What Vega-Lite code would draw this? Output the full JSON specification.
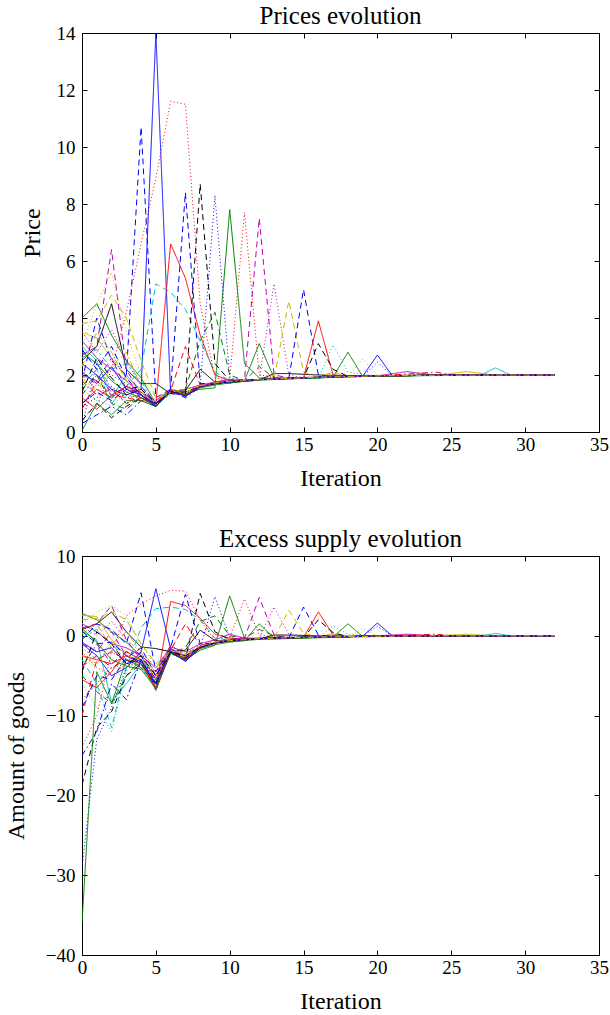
{
"$schema":"https://vega.github.io/schema/vega-lite/v6.json",
"padding":{"left":3,"top":3,"right":0,"bottom":0},
"spacing":35,
"config":{
 "font":"Liberation Serif",
 "view":{"stroke":"black","strokeWidth":1},
 "axis":{"labelFont":"Liberation Serif","labelFontSize":19,"titleFont":"Liberation Serif","titleFontSize":24,"titleFontWeight":"normal","labelColor":"black","titleColor":"black","domainColor":"black","tickColor":"black","tickSize":-5,"grid":false,"labelFlush":false,"labelOverlap":false,"labelPadding":12,"titlePadding":6},
 "axisX":{"labelPadding":8,"titlePadding":12},
 "title":{"font":"Liberation Serif","fontSize":25,"fontWeight":"normal","color":"black","anchor":"middle","frame":"group","offset":-5}
},
"data":{"values":[
{"s":1,"x":0,"p":2.4,"e":-1},{"s":1,"x":1,"p":2.0,"e":-2.5},{"s":1,"x":2,"p":1.5,"e":-5},{"s":1,"x":3,"p":1.3,"e":-4},{"s":1,"x":4,"p":1.5,"e":-2},{"s":1,"x":5,"p":14,"e":5.9},{"s":1,"x":6,"p":1.35,"e":-1.6},{"s":1,"x":7,"p":1.3,"e":-3},{"s":1,"x":8,"p":1.62,"e":-1.3},{"s":1,"x":9,"p":1.72,"e":-0.9},{"s":1,"x":10,"p":1.78,"e":-0.6},{"s":1,"x":11,"p":1.8,"e":-0.5},{"s":1,"x":12,"p":1.84,"e":-0.35},{"s":1,"x":14,"p":1.88,"e":-0.25},{"s":1,"x":16,"p":1.92,"e":-0.15},{"s":1,"x":18,"p":1.95,"e":-0.1},{"s":1,"x":20,"p":1.97,"e":-0.05},{"s":1,"x":24,"p":1.99,"e":0},{"s":1,"x":28,"p":2,"e":0},{"s":1,"x":32,"p":2,"e":0},
{"s":2,"x":0,"p":4.0,"e":2.8},{"s":2,"x":1,"p":4.5,"e":2.0},{"s":2,"x":2,"p":3.4,"e":0.5},{"s":2,"x":3,"p":2.5,"e":-0.8},{"s":2,"x":4,"p":1.9,"e":-2.5},{"s":2,"x":5,"p":1.0,"e":-5.5},{"s":2,"x":6,"p":1.45,"e":-2},{"s":2,"x":7,"p":1.35,"e":-3},{"s":2,"x":8,"p":1.5,"e":-1.8},{"s":2,"x":9,"p":1.55,"e":-1.2},{"s":2,"x":10,"p":7.8,"e":5.0},{"s":2,"x":11,"p":2.4,"e":-0.3},{"s":2,"x":12,"p":1.9,"e":-0.4},{"s":2,"x":14,"p":1.88,"e":-0.3},{"s":2,"x":16,"p":1.9,"e":-0.2},{"s":2,"x":18,"p":1.94,"e":-0.1},{"s":2,"x":20,"p":1.96,"e":-0.05},{"s":2,"x":24,"p":1.99,"e":0},{"s":2,"x":28,"p":2,"e":0},{"s":2,"x":32,"p":2,"e":0},
{"s":3,"x":0,"p":1.0,"e":-2.5},{"s":3,"x":1,"p":1.5,"e":-3},{"s":3,"x":2,"p":1.2,"e":-3.5},{"s":3,"x":3,"p":1.6,"e":-2.5},{"s":3,"x":4,"p":1.4,"e":-3.5},{"s":3,"x":5,"p":1.0,"e":-6.5},{"s":3,"x":6,"p":6.6,"e":4.3},{"s":3,"x":7,"p":5.4,"e":3.8},{"s":3,"x":8,"p":3.4,"e":2.2},{"s":3,"x":9,"p":2.0,"e":0.2},{"s":3,"x":10,"p":1.8,"e":-0.3},{"s":3,"x":11,"p":1.8,"e":-0.4},{"s":3,"x":12,"p":1.84,"e":-0.3},{"s":3,"x":14,"p":1.88,"e":-0.25},{"s":3,"x":16,"p":1.92,"e":-0.15},{"s":3,"x":18,"p":1.95,"e":-0.1},{"s":3,"x":20,"p":1.97,"e":-0.05},{"s":3,"x":24,"p":1.99,"e":0},{"s":3,"x":28,"p":2,"e":0},{"s":3,"x":32,"p":2,"e":0},
{"s":4,"x":0,"p":3.0,"e":0.5},{"s":4,"x":1,"p":2.5,"e":-0.5},{"s":4,"x":2,"p":1.2,"e":-8.3},{"s":4,"x":3,"p":2.0,"e":-6},{"s":4,"x":4,"p":1.4,"e":-3.5},{"s":4,"x":5,"p":0.9,"e":-6.8},{"s":4,"x":6,"p":1.5,"e":-2},{"s":4,"x":7,"p":1.25,"e":-2.9},{"s":4,"x":8,"p":1.58,"e":-1.4},{"s":4,"x":9,"p":1.7,"e":-0.9},{"s":4,"x":10,"p":1.76,"e":-0.6},{"s":4,"x":11,"p":1.79,"e":-0.5},{"s":4,"x":12,"p":1.84,"e":-0.35},{"s":4,"x":14,"p":1.88,"e":-0.25},{"s":4,"x":16,"p":1.92,"e":-0.15},{"s":4,"x":18,"p":1.95,"e":-0.1},{"s":4,"x":20,"p":1.97,"e":-0.05},{"s":4,"x":24,"p":1.99,"e":0},{"s":4,"x":27,"p":2,"e":0},{"s":4,"x":28,"p":2.25,"e":0.3},{"s":4,"x":29,"p":2,"e":0},{"s":4,"x":32,"p":2,"e":0},
{"s":5,"x":0,"p":3.2,"e":1.5},{"s":5,"x":1,"p":2.6,"e":0.5},{"s":5,"x":2,"p":2.2,"e":-1},{"s":5,"x":3,"p":1.8,"e":-1.5},{"s":5,"x":4,"p":1.3,"e":-2.5},{"s":5,"x":5,"p":1.0,"e":-4},{"s":5,"x":6,"p":1.4,"e":-1.4},{"s":5,"x":7,"p":1.5,"e":-2},{"s":5,"x":8,"p":1.65,"e":-1},{"s":5,"x":9,"p":1.75,"e":-0.5},{"s":5,"x":10,"p":1.85,"e":0.2},{"s":5,"x":11,"p":1.78,"e":-0.3},{"s":5,"x":12,"p":1.84,"e":-0.3},{"s":5,"x":14,"p":1.89,"e":-0.2},{"s":5,"x":16,"p":1.93,"e":-0.1},{"s":5,"x":18,"p":1.95,"e":-0.1},{"s":5,"x":20,"p":1.97,"e":0},{"s":5,"x":22,"p":2.12,"e":0.2},{"s":5,"x":24,"p":1.99,"e":0},{"s":5,"x":28,"p":2,"e":0},{"s":5,"x":32,"p":2,"e":0},
{"s":6,"x":0,"p":3.5,"e":2.6},{"s":6,"x":1,"p":3.3,"e":2.4},{"s":6,"x":2,"p":2.6,"e":-0.5},{"s":6,"x":3,"p":1.9,"e":-2.5},{"s":6,"x":4,"p":1.5,"e":-3},{"s":6,"x":5,"p":1.1,"e":-4.5},{"s":6,"x":6,"p":1.5,"e":-1.8},{"s":6,"x":7,"p":1.35,"e":-2.6},{"s":6,"x":8,"p":1.6,"e":-1.3},{"s":6,"x":9,"p":1.72,"e":-0.8},{"s":6,"x":10,"p":1.77,"e":-0.6},{"s":6,"x":11,"p":1.8,"e":-0.5},{"s":6,"x":12,"p":1.83,"e":-0.4},{"s":6,"x":14,"p":1.87,"e":-0.3},{"s":6,"x":16,"p":1.91,"e":-0.2},{"s":6,"x":18,"p":1.95,"e":-0.1},{"s":6,"x":20,"p":1.97,"e":-0.05},{"s":6,"x":24,"p":1.99,"e":0},{"s":6,"x":26,"p":2.12,"e":0.2},{"s":6,"x":28,"p":2,"e":0},{"s":6,"x":32,"p":2,"e":0},
{"s":7,"x":0,"p":2.5,"e":0.8},{"s":7,"x":1,"p":3.0,"e":1.5},{"s":7,"x":2,"p":4.5,"e":3.0},{"s":7,"x":3,"p":2.2,"e":0.5},{"s":7,"x":4,"p":1.7,"e":-1.4},{"s":7,"x":5,"p":1.7,"e":-1.6},{"s":7,"x":6,"p":1.35,"e":-2},{"s":7,"x":7,"p":1.45,"e":-1.8},{"s":7,"x":8,"p":2.2,"e":0.7},{"s":7,"x":9,"p":1.75,"e":-0.6},{"s":7,"x":10,"p":1.72,"e":-0.7},{"s":7,"x":11,"p":1.78,"e":-0.5},{"s":7,"x":12,"p":1.82,"e":-0.4},{"s":7,"x":13,"p":2.05,"e":0.1},{"s":7,"x":14,"p":2.05,"e":0.1},{"s":7,"x":16,"p":2.0,"e":0},{"s":7,"x":18,"p":1.98,"e":-0.05},{"s":7,"x":20,"p":1.98,"e":-0.02},{"s":7,"x":24,"p":2,"e":0},{"s":7,"x":28,"p":2,"e":0},{"s":7,"x":32,"p":2,"e":0},
{"s":8,"x":0,"p":1.8,"e":-0.5},{"s":8,"x":1,"p":4.0,"e":1.5},{"s":8,"x":2,"p":2.5,"e":0.8},{"s":8,"x":3,"p":2.0,"e":-1},{"s":8,"x":4,"p":10.7,"e":5.4},{"s":8,"x":5,"p":1.2,"e":-4.5},{"s":8,"x":6,"p":1.5,"e":-1.6},{"s":8,"x":7,"p":1.3,"e":-2.6},{"s":8,"x":8,"p":1.6,"e":-1.4},{"s":8,"x":9,"p":1.7,"e":-0.9},{"s":8,"x":10,"p":1.78,"e":-0.6},{"s":8,"x":11,"p":1.8,"e":-0.5},{"s":8,"x":12,"p":1.84,"e":-0.35},{"s":8,"x":14,"p":1.88,"e":-0.25},{"s":8,"x":16,"p":1.92,"e":-0.15},{"s":8,"x":18,"p":1.95,"e":-0.1},{"s":8,"x":20,"p":1.97,"e":-0.05},{"s":8,"x":24,"p":1.99,"e":0},{"s":8,"x":28,"p":2,"e":0},{"s":8,"x":32,"p":2,"e":0},
{"s":9,"x":0,"p":1.5,"e":-5},{"s":9,"x":1,"p":2.0,"e":-7},{"s":9,"x":2,"p":1.0,"e":-8.5},{"s":9,"x":3,"p":0.8,"e":-5},{"s":9,"x":4,"p":1.2,"e":-3},{"s":9,"x":5,"p":0.9,"e":-5.8},{"s":9,"x":6,"p":1.4,"e":-2.2},{"s":9,"x":7,"p":1.5,"e":-1.5},{"s":9,"x":8,"p":3.2,"e":1.8},{"s":9,"x":9,"p":4.2,"e":2.5},{"s":9,"x":10,"p":2.0,"e":0},{"s":9,"x":11,"p":1.8,"e":-0.3},{"s":9,"x":12,"p":2.3,"e":0.8},{"s":9,"x":13,"p":1.9,"e":0},{"s":9,"x":14,"p":1.88,"e":-0.2},{"s":9,"x":16,"p":1.92,"e":-0.1},{"s":9,"x":18,"p":1.95,"e":-0.1},{"s":9,"x":20,"p":1.97,"e":0},{"s":9,"x":24,"p":1.99,"e":0},{"s":9,"x":28,"p":2,"e":0},{"s":9,"x":32,"p":2,"e":0},
{"s":10,"x":0,"p":0.8,"e":-10},{"s":10,"x":1,"p":1.8,"e":-3},{"s":10,"x":2,"p":1.3,"e":-2},{"s":10,"x":3,"p":1.2,"e":-3},{"s":10,"x":4,"p":1.1,"e":-3.8},{"s":10,"x":5,"p":1.05,"e":-5.2},{"s":10,"x":6,"p":1.45,"e":-1.8},{"s":10,"x":7,"p":3.0,"e":1.5},{"s":10,"x":8,"p":1.65,"e":-1.2},{"s":10,"x":9,"p":1.7,"e":-0.9},{"s":10,"x":10,"p":1.78,"e":-0.6},{"s":10,"x":11,"p":1.82,"e":-0.4},{"s":10,"x":12,"p":1.84,"e":-0.35},{"s":10,"x":14,"p":1.88,"e":-0.25},{"s":10,"x":16,"p":1.92,"e":-0.15},{"s":10,"x":18,"p":1.95,"e":-0.1},{"s":10,"x":20,"p":1.97,"e":-0.05},{"s":10,"x":24,"p":1.99,"e":0},{"s":10,"x":28,"p":2,"e":0},{"s":10,"x":32,"p":2,"e":0},
{"s":11,"x":0,"p":1.6,"e":-3},{"s":11,"x":1,"p":2.2,"e":-6},{"s":11,"x":2,"p":1.0,"e":-11.5},{"s":11,"x":3,"p":1.6,"e":-4},{"s":11,"x":4,"p":2.2,"e":1.0},{"s":11,"x":5,"p":5.2,"e":3.4},{"s":11,"x":6,"p":4.9,"e":3.6},{"s":11,"x":7,"p":4.3,"e":3.3},{"s":11,"x":8,"p":3.2,"e":2.0},{"s":11,"x":9,"p":2.1,"e":-0.3},{"s":11,"x":10,"p":1.8,"e":-0.5},{"s":11,"x":11,"p":1.8,"e":-0.5},{"s":11,"x":12,"p":1.84,"e":-0.35},{"s":11,"x":14,"p":1.88,"e":-0.25},{"s":11,"x":16,"p":1.92,"e":-0.15},{"s":11,"x":18,"p":1.95,"e":-0.1},{"s":11,"x":20,"p":1.97,"e":-0.05},{"s":11,"x":24,"p":1.99,"e":0},{"s":11,"x":28,"p":2,"e":0},{"s":11,"x":32,"p":2,"e":0},
{"s":12,"x":0,"p":2.7,"e":1.0},{"s":12,"x":1,"p":3.0,"e":1.5},{"s":12,"x":2,"p":6.4,"e":3.8},{"s":12,"x":3,"p":2.2,"e":-0.5},{"s":12,"x":4,"p":1.3,"e":-3},{"s":12,"x":5,"p":1.0,"e":-5},{"s":12,"x":6,"p":1.4,"e":-1.6},{"s":12,"x":7,"p":1.3,"e":-2.7},{"s":12,"x":8,"p":1.6,"e":-1.4},{"s":12,"x":9,"p":1.72,"e":-0.9},{"s":12,"x":10,"p":1.78,"e":-0.6},{"s":12,"x":11,"p":1.8,"e":-0.5},{"s":12,"x":12,"p":1.84,"e":-0.35},{"s":12,"x":14,"p":1.88,"e":-0.25},{"s":12,"x":16,"p":1.92,"e":-0.15},{"s":12,"x":18,"p":1.95,"e":-0.1},{"s":12,"x":20,"p":1.97,"e":-0.05},{"s":12,"x":24,"p":1.99,"e":0},{"s":12,"x":28,"p":2,"e":0},{"s":12,"x":32,"p":2,"e":0},
{"s":13,"x":0,"p":3.8,"e":2.0},{"s":13,"x":1,"p":3.9,"e":2.2},{"s":13,"x":2,"p":4.8,"e":3.0},{"s":13,"x":3,"p":4.0,"e":2.0},{"s":13,"x":4,"p":2.5,"e":-1},{"s":13,"x":5,"p":1.2,"e":-3.5},{"s":13,"x":6,"p":1.4,"e":-1.8},{"s":13,"x":7,"p":1.4,"e":-2.4},{"s":13,"x":8,"p":1.6,"e":-1.4},{"s":13,"x":9,"p":1.7,"e":-0.9},{"s":13,"x":10,"p":1.76,"e":-0.6},{"s":13,"x":11,"p":1.8,"e":-0.5},{"s":13,"x":12,"p":1.84,"e":-0.35},{"s":13,"x":14,"p":1.88,"e":-0.25},{"s":13,"x":16,"p":1.92,"e":-0.15},{"s":13,"x":17,"p":2.1,"e":0.3},{"s":13,"x":18,"p":1.95,"e":-0.1},{"s":13,"x":20,"p":1.97,"e":-0.05},{"s":13,"x":24,"p":1.99,"e":0},{"s":13,"x":28,"p":2,"e":0},{"s":13,"x":32,"p":2,"e":0},
{"s":14,"x":0,"p":0.4,"e":-18.7},{"s":14,"x":1,"p":1.0,"e":-11.5},{"s":14,"x":2,"p":0.5,"e":-9.5},{"s":14,"x":3,"p":0.9,"e":-5},{"s":14,"x":4,"p":1.2,"e":-3.5},{"s":14,"x":5,"p":1.0,"e":-6},{"s":14,"x":6,"p":1.4,"e":-2.2},{"s":14,"x":7,"p":1.3,"e":-3},{"s":14,"x":8,"p":8.7,"e":5.3},{"s":14,"x":9,"p":2.4,"e":0.5},{"s":14,"x":10,"p":1.8,"e":-0.5},{"s":14,"x":11,"p":1.8,"e":-0.5},{"s":14,"x":12,"p":1.84,"e":-0.35},{"s":14,"x":14,"p":1.88,"e":-0.25},{"s":14,"x":16,"p":1.92,"e":-0.15},{"s":14,"x":18,"p":1.95,"e":-0.1},{"s":14,"x":20,"p":1.97,"e":-0.05},{"s":14,"x":24,"p":1.99,"e":0},{"s":14,"x":28,"p":2,"e":0},{"s":14,"x":32,"p":2,"e":0},
{"s":15,"x":0,"p":0.2,"e":-29},{"s":15,"x":1,"p":2.4,"e":-13},{"s":15,"x":2,"p":1.5,"e":-9},{"s":15,"x":3,"p":1.0,"e":-4},{"s":15,"x":4,"p":1.3,"e":-2.5},{"s":15,"x":5,"p":1.0,"e":-6},{"s":15,"x":6,"p":1.3,"e":-2},{"s":15,"x":7,"p":1.5,"e":-2.5},{"s":15,"x":8,"p":1.6,"e":-1.5},{"s":15,"x":9,"p":8.3,"e":4.9},{"s":15,"x":10,"p":1.9,"e":-0.2},{"s":15,"x":11,"p":1.8,"e":-0.5},{"s":15,"x":12,"p":1.84,"e":-0.35},{"s":15,"x":14,"p":1.88,"e":-0.25},{"s":15,"x":16,"p":1.92,"e":-0.15},{"s":15,"x":18,"p":1.95,"e":-0.1},{"s":15,"x":19,"p":1.96,"e":0},{"s":15,"x":20,"p":2.45,"e":1.2},{"s":15,"x":21,"p":1.98,"e":0},{"s":15,"x":24,"p":1.99,"e":0},{"s":15,"x":28,"p":2,"e":0},{"s":15,"x":32,"p":2,"e":0},
{"s":16,"x":0,"p":2.2,"e":-1.5},{"s":16,"x":1,"p":1.6,"e":-3},{"s":16,"x":2,"p":2.0,"e":-2},{"s":16,"x":3,"p":1.7,"e":-3},{"s":16,"x":4,"p":1.2,"e":-4},{"s":16,"x":5,"p":0.95,"e":-6},{"s":16,"x":6,"p":1.5,"e":-2},{"s":16,"x":7,"p":1.3,"e":-3},{"s":16,"x":8,"p":1.6,"e":-1.4},{"s":16,"x":9,"p":1.7,"e":-0.9},{"s":16,"x":10,"p":1.78,"e":-0.6},{"s":16,"x":11,"p":1.8,"e":-0.5},{"s":16,"x":12,"p":1.84,"e":-0.35},{"s":16,"x":14,"p":1.88,"e":-0.25},{"s":16,"x":16,"p":1.92,"e":-0.15},{"s":16,"x":18,"p":1.95,"e":-0.1},{"s":16,"x":20,"p":1.97,"e":-0.05},{"s":16,"x":24,"p":1.99,"e":0},{"s":16,"x":28,"p":2,"e":0},{"s":16,"x":32,"p":2,"e":0},
{"s":17,"x":0,"p":0.5,"e":-14},{"s":17,"x":1,"p":0.9,"e":-10},{"s":17,"x":2,"p":2.2,"e":-2},{"s":17,"x":3,"p":4.2,"e":2.5},{"s":17,"x":4,"p":6.6,"e":4.0},{"s":17,"x":5,"p":8.9,"e":5.0},{"s":17,"x":6,"p":11.6,"e":5.7},{"s":17,"x":7,"p":11.5,"e":5.6},{"s":17,"x":8,"p":4.5,"e":2.0},{"s":17,"x":9,"p":1.9,"e":-0.6},{"s":17,"x":10,"p":1.8,"e":-0.5},{"s":17,"x":11,"p":1.8,"e":-0.5},{"s":17,"x":12,"p":1.84,"e":-0.35},{"s":17,"x":14,"p":1.88,"e":-0.25},{"s":17,"x":16,"p":1.92,"e":-0.15},{"s":17,"x":18,"p":1.95,"e":-0.1},{"s":17,"x":20,"p":1.97,"e":-0.05},{"s":17,"x":24,"p":1.99,"e":0},{"s":17,"x":28,"p":2,"e":0},{"s":17,"x":32,"p":2,"e":0},
{"s":18,"x":0,"p":1.5,"e":-6},{"s":18,"x":1,"p":1.1,"e":-9},{"s":18,"x":2,"p":0.9,"e":-12},{"s":18,"x":3,"p":1.4,"e":-4.5},{"s":18,"x":4,"p":1.5,"e":-2},{"s":18,"x":5,"p":0.9,"e":-7},{"s":18,"x":6,"p":1.5,"e":-2},{"s":18,"x":7,"p":1.3,"e":-3},{"s":18,"x":8,"p":1.6,"e":-1.4},{"s":18,"x":9,"p":1.7,"e":-0.9},{"s":18,"x":10,"p":1.78,"e":-0.6},{"s":18,"x":11,"p":1.8,"e":-0.5},{"s":18,"x":12,"p":1.84,"e":-0.35},{"s":18,"x":14,"p":1.88,"e":-0.25},{"s":18,"x":16,"p":1.9,"e":-0.2},{"s":18,"x":17,"p":3.05,"e":1.2},{"s":18,"x":18,"p":2.1,"e":0.2},{"s":18,"x":20,"p":1.97,"e":-0.05},{"s":18,"x":24,"p":1.99,"e":0},{"s":18,"x":28,"p":2,"e":0},{"s":18,"x":32,"p":2,"e":0},
{"s":19,"x":0,"p":3.5,"e":1.2},{"s":19,"x":1,"p":2.8,"e":0},{"s":19,"x":2,"p":3.6,"e":1.8},{"s":19,"x":3,"p":2.5,"e":-0.5},{"s":19,"x":4,"p":1.6,"e":-2},{"s":19,"x":5,"p":1.0,"e":-5.5},{"s":19,"x":6,"p":1.4,"e":-1.8},{"s":19,"x":7,"p":1.35,"e":-2.8},{"s":19,"x":8,"p":1.6,"e":-1.4},{"s":19,"x":9,"p":1.72,"e":-0.9},{"s":19,"x":10,"p":1.78,"e":-0.6},{"s":19,"x":11,"p":1.8,"e":-0.5},{"s":19,"x":12,"p":1.85,"e":-0.3},{"s":19,"x":13,"p":5.2,"e":3.6},{"s":19,"x":14,"p":2.0,"e":0.2},{"s":19,"x":15,"p":1.9,"e":-0.2},{"s":19,"x":16,"p":1.92,"e":-0.15},{"s":19,"x":18,"p":1.95,"e":-0.1},{"s":19,"x":20,"p":1.97,"e":-0.05},{"s":19,"x":24,"p":1.99,"e":0},{"s":19,"x":28,"p":2,"e":0},{"s":19,"x":32,"p":2,"e":0},
{"s":20,"x":0,"p":3.0,"e":1.5},{"s":20,"x":1,"p":4.5,"e":3.0},{"s":20,"x":2,"p":5.6,"e":3.8},{"s":20,"x":3,"p":3.5,"e":2.5},{"s":20,"x":4,"p":2.0,"e":-1},{"s":20,"x":5,"p":1.2,"e":-4},{"s":20,"x":6,"p":1.4,"e":-1.8},{"s":20,"x":7,"p":1.4,"e":-2.5},{"s":20,"x":8,"p":1.6,"e":-1.4},{"s":20,"x":9,"p":1.7,"e":-0.9},{"s":20,"x":10,"p":1.78,"e":-0.6},{"s":20,"x":11,"p":1.8,"e":-0.5},{"s":20,"x":12,"p":1.84,"e":-0.35},{"s":20,"x":14,"p":1.88,"e":-0.25},{"s":20,"x":16,"p":1.92,"e":-0.15},{"s":20,"x":18,"p":1.95,"e":-0.1},{"s":20,"x":19,"p":2.55,"e":0.9},{"s":20,"x":20,"p":2.0,"e":0},{"s":20,"x":24,"p":1.99,"e":0},{"s":20,"x":28,"p":2,"e":0},{"s":20,"x":32,"p":2,"e":0},
{"s":21,"x":0,"p":0.9,"e":-8},{"s":21,"x":1,"p":1.2,"e":-6},{"s":21,"x":2,"p":1.6,"e":-4},{"s":21,"x":3,"p":1.2,"e":-3.5},{"s":21,"x":4,"p":1.3,"e":-3},{"s":21,"x":5,"p":0.95,"e":-5.8},{"s":21,"x":6,"p":1.45,"e":-2},{"s":21,"x":7,"p":1.35,"e":-2.8},{"s":21,"x":8,"p":1.6,"e":-1.4},{"s":21,"x":9,"p":1.7,"e":-0.9},{"s":21,"x":10,"p":1.78,"e":-0.6},{"s":21,"x":11,"p":1.8,"e":-0.5},{"s":21,"x":12,"p":1.84,"e":-0.35},{"s":21,"x":14,"p":1.88,"e":-0.25},{"s":21,"x":16,"p":1.92,"e":-0.15},{"s":21,"x":18,"p":1.95,"e":-0.1},{"s":21,"x":20,"p":1.97,"e":-0.05},{"s":21,"x":24,"p":1.99,"e":0},{"s":21,"x":28,"p":2,"e":0},{"s":21,"x":32,"p":2,"e":0},
{"s":22,"x":0,"p":0.3,"e":-15},{"s":22,"x":1,"p":0.6,"e":-12},{"s":22,"x":2,"p":0.9,"e":-6},{"s":22,"x":3,"p":0.6,"e":-8},{"s":22,"x":4,"p":1.1,"e":-3},{"s":22,"x":5,"p":0.9,"e":-6.5},{"s":22,"x":6,"p":1.45,"e":-2},{"s":22,"x":7,"p":1.2,"e":-3.2},{"s":22,"x":8,"p":1.58,"e":-1.5},{"s":22,"x":9,"p":1.7,"e":-0.9},{"s":22,"x":10,"p":1.76,"e":-0.6},{"s":22,"x":11,"p":1.8,"e":-0.5},{"s":22,"x":12,"p":1.84,"e":-0.35},{"s":22,"x":14,"p":1.88,"e":-0.25},{"s":22,"x":16,"p":1.92,"e":-0.15},{"s":22,"x":18,"p":1.95,"e":-0.1},{"s":22,"x":20,"p":1.97,"e":-0.05},{"s":22,"x":24,"p":1.99,"e":0},{"s":22,"x":28,"p":2,"e":0},{"s":22,"x":32,"p":2,"e":0},
{"s":23,"x":0,"p":0.05,"e":-36},{"s":23,"x":1,"p":1.0,"e":-4.5},{"s":23,"x":2,"p":0.6,"e":-8.5},{"s":23,"x":3,"p":1.1,"e":-3},{"s":23,"x":4,"p":1.1,"e":-3.5},{"s":23,"x":5,"p":0.9,"e":-6},{"s":23,"x":6,"p":1.45,"e":-2},{"s":23,"x":7,"p":1.3,"e":-2.9},{"s":23,"x":8,"p":1.6,"e":-1.4},{"s":23,"x":9,"p":1.7,"e":-0.9},{"s":23,"x":10,"p":1.75,"e":-0.7},{"s":23,"x":11,"p":1.78,"e":-0.6},{"s":23,"x":12,"p":1.82,"e":-0.45},{"s":23,"x":14,"p":1.86,"e":-0.35},{"s":23,"x":16,"p":1.9,"e":-0.25},{"s":23,"x":18,"p":1.93,"e":-0.15},{"s":23,"x":20,"p":1.96,"e":-0.1},{"s":23,"x":24,"p":1.98,"e":-0.05},{"s":23,"x":28,"p":2,"e":0},{"s":23,"x":32,"p":2,"e":0},
{"s":24,"x":0,"p":1.8,"e":-3.8},{"s":24,"x":1,"p":1.3,"e":-2.5},{"s":24,"x":2,"p":1.5,"e":-4},{"s":24,"x":3,"p":1.0,"e":-3},{"s":24,"x":4,"p":1.2,"e":-4},{"s":24,"x":5,"p":1.0,"e":-6.2},{"s":24,"x":6,"p":1.5,"e":-1.9},{"s":24,"x":7,"p":1.3,"e":-2.9},{"s":24,"x":8,"p":1.6,"e":-1.4},{"s":24,"x":9,"p":1.7,"e":-0.9},{"s":24,"x":10,"p":1.78,"e":-0.6},{"s":24,"x":11,"p":1.8,"e":-0.5},{"s":24,"x":12,"p":1.84,"e":-0.35},{"s":24,"x":14,"p":1.88,"e":-0.25},{"s":24,"x":16,"p":1.92,"e":-0.15},{"s":24,"x":18,"p":1.95,"e":-0.1},{"s":24,"x":20,"p":1.97,"e":-0.05},{"s":24,"x":24,"p":2.1,"e":0.2},{"s":24,"x":25,"p":2,"e":0},{"s":24,"x":28,"p":2,"e":0},{"s":24,"x":32,"p":2,"e":0},
{"s":25,"x":0,"p":2.6,"e":-0.3},{"s":25,"x":1,"p":2.9,"e":0.8},{"s":25,"x":2,"p":2.2,"e":-1},{"s":25,"x":3,"p":2.4,"e":-3},{"s":25,"x":4,"p":1.8,"e":-4},{"s":25,"x":5,"p":0.9,"e":-6.5},{"s":25,"x":6,"p":1.5,"e":-2},{"s":25,"x":7,"p":1.25,"e":-3},{"s":25,"x":8,"p":1.6,"e":-1.4},{"s":25,"x":9,"p":1.7,"e":-0.9},{"s":25,"x":10,"p":1.78,"e":-0.6},{"s":25,"x":11,"p":1.8,"e":-0.5},{"s":25,"x":12,"p":1.84,"e":-0.35},{"s":25,"x":14,"p":1.88,"e":-0.25},{"s":25,"x":16,"p":1.92,"e":-0.15},{"s":25,"x":18,"p":1.95,"e":-0.1},{"s":25,"x":20,"p":1.97,"e":-0.05},{"s":25,"x":24,"p":1.99,"e":0},{"s":25,"x":28,"p":2,"e":0},{"s":25,"x":32,"p":2,"e":0},
{"s":26,"x":0,"p":2.0,"e":-1},{"s":26,"x":1,"p":1.8,"e":-2},{"s":26,"x":2,"p":2.6,"e":0.5},{"s":26,"x":3,"p":1.5,"e":-2.5},{"s":26,"x":4,"p":1.2,"e":-3.5},{"s":26,"x":5,"p":1.0,"e":-5.5},{"s":26,"x":6,"p":1.45,"e":-1.7},{"s":26,"x":7,"p":1.3,"e":-2.6},{"s":26,"x":8,"p":1.6,"e":-1.3},{"s":26,"x":9,"p":1.7,"e":-0.9},{"s":26,"x":10,"p":1.8,"e":-0.5},{"s":26,"x":11,"p":1.85,"e":-0.3},{"s":26,"x":12,"p":7.5,"e":4.8},{"s":26,"x":13,"p":2.0,"e":0.1},{"s":26,"x":14,"p":1.9,"e":-0.2},{"s":26,"x":16,"p":1.92,"e":-0.15},{"s":26,"x":18,"p":1.95,"e":-0.1},{"s":26,"x":20,"p":1.97,"e":-0.05},{"s":26,"x":24,"p":1.99,"e":0},{"s":26,"x":28,"p":2,"e":0},{"s":26,"x":32,"p":2,"e":0},
{"s":27,"x":0,"p":2.3,"e":0.2},{"s":27,"x":1,"p":3.5,"e":1.5},{"s":27,"x":2,"p":2.8,"e":-1.5},{"s":27,"x":3,"p":1.8,"e":-2},{"s":27,"x":4,"p":1.4,"e":-3},{"s":27,"x":5,"p":1.0,"e":-5},{"s":27,"x":6,"p":1.5,"e":-1.8},{"s":27,"x":7,"p":1.35,"e":-2.7},{"s":27,"x":8,"p":1.6,"e":-1.4},{"s":27,"x":9,"p":1.7,"e":-0.9},{"s":27,"x":10,"p":1.78,"e":-0.6},{"s":27,"x":11,"p":1.8,"e":-0.5},{"s":27,"x":12,"p":1.84,"e":-0.35},{"s":27,"x":13,"p":1.86,"e":-0.3},{"s":27,"x":14,"p":4.6,"e":3.2},{"s":27,"x":15,"p":2.1,"e":0.3},{"s":27,"x":16,"p":1.92,"e":-0.1},{"s":27,"x":18,"p":1.95,"e":-0.1},{"s":27,"x":20,"p":1.97,"e":-0.05},{"s":27,"x":24,"p":1.99,"e":0},{"s":27,"x":28,"p":2,"e":0},{"s":27,"x":32,"p":2,"e":0},
{"s":28,"x":0,"p":2.9,"e":0.6},{"s":28,"x":1,"p":2.2,"e":-1},{"s":28,"x":2,"p":3.0,"e":-0.8},{"s":28,"x":3,"p":1.9,"e":-2.5},{"s":28,"x":4,"p":1.3,"e":-3.2},{"s":28,"x":5,"p":0.95,"e":-6.2},{"s":28,"x":6,"p":1.45,"e":-1.9},{"s":28,"x":7,"p":1.3,"e":-2.8},{"s":28,"x":8,"p":1.6,"e":-1.4},{"s":28,"x":9,"p":1.7,"e":-0.9},{"s":28,"x":10,"p":1.78,"e":-0.6},{"s":28,"x":11,"p":1.8,"e":-0.5},{"s":28,"x":12,"p":1.84,"e":-0.35},{"s":28,"x":14,"p":1.88,"e":-0.25},{"s":28,"x":15,"p":5.0,"e":3.6},{"s":28,"x":16,"p":2.0,"e":0.1},{"s":28,"x":17,"p":1.93,"e":-0.1},{"s":28,"x":18,"p":1.95,"e":-0.1},{"s":28,"x":20,"p":1.97,"e":-0.05},{"s":28,"x":24,"p":1.99,"e":0},{"s":28,"x":28,"p":2,"e":0},{"s":28,"x":32,"p":2,"e":0},
{"s":29,"x":0,"p":1.2,"e":-5.5},{"s":29,"x":1,"p":0.8,"e":-6.5},{"s":29,"x":2,"p":1.3,"e":-4.5},{"s":29,"x":3,"p":1.6,"e":-2},{"s":29,"x":4,"p":1.3,"e":-3},{"s":29,"x":5,"p":0.9,"e":-6.8},{"s":29,"x":6,"p":1.45,"e":-2.1},{"s":29,"x":7,"p":1.3,"e":-3},{"s":29,"x":8,"p":1.6,"e":-1.4},{"s":29,"x":9,"p":1.7,"e":-0.9},{"s":29,"x":10,"p":1.78,"e":-0.6},{"s":29,"x":11,"p":1.8,"e":-0.5},{"s":29,"x":12,"p":1.84,"e":-0.35},{"s":29,"x":14,"p":1.88,"e":-0.25},{"s":29,"x":15,"p":1.9,"e":-0.2},{"s":29,"x":16,"p":3.9,"e":3.0},{"s":29,"x":17,"p":2.0,"e":0.1},{"s":29,"x":18,"p":1.95,"e":-0.1},{"s":29,"x":20,"p":1.97,"e":-0.05},{"s":29,"x":24,"p":1.99,"e":0},{"s":29,"x":28,"p":2,"e":0},{"s":29,"x":32,"p":2,"e":0},
{"s":30,"x":0,"p":2.8,"e":0.9},{"s":30,"x":1,"p":2.4,"e":-0.8},{"s":30,"x":2,"p":1.8,"e":-3},{"s":30,"x":3,"p":1.4,"e":-3.8},{"s":30,"x":4,"p":1.2,"e":-4.2},{"s":30,"x":5,"p":0.9,"e":-6.6},{"s":30,"x":6,"p":1.4,"e":-2.2},{"s":30,"x":7,"p":1.3,"e":-3},{"s":30,"x":8,"p":1.55,"e":-1.6},{"s":30,"x":9,"p":1.65,"e":-1.1},{"s":30,"x":10,"p":1.72,"e":-0.8},{"s":30,"x":11,"p":1.8,"e":-0.6},{"s":30,"x":12,"p":3.1,"e":1.5},{"s":30,"x":13,"p":1.9,"e":-0.3},{"s":30,"x":14,"p":1.87,"e":-0.3},{"s":30,"x":16,"p":1.9,"e":-0.2},{"s":30,"x":17,"p":1.93,"e":-0.15},{"s":30,"x":18,"p":2.8,"e":1.5},{"s":30,"x":19,"p":1.95,"e":-0.1},{"s":30,"x":20,"p":1.96,"e":-0.05},{"s":30,"x":24,"p":1.99,"e":0},{"s":30,"x":28,"p":2,"e":0},{"s":30,"x":32,"p":2,"e":0},
{"s":31,"x":0,"p":2.1,"e":-0.8},{"s":31,"x":1,"p":1.7,"e":-2},{"s":31,"x":2,"p":2.3,"e":-1.5},{"s":31,"x":3,"p":1.5,"e":-3.5},{"s":31,"x":4,"p":1.3,"e":-3},{"s":31,"x":5,"p":0.9,"e":-6},{"s":31,"x":6,"p":1.45,"e":-2},{"s":31,"x":7,"p":1.25,"e":-3.2},{"s":31,"x":8,"p":1.58,"e":-1.5},{"s":31,"x":9,"p":1.7,"e":-0.9},{"s":31,"x":10,"p":1.76,"e":-0.6},{"s":31,"x":11,"p":1.8,"e":-0.5},{"s":31,"x":12,"p":1.84,"e":-0.35},{"s":31,"x":14,"p":1.88,"e":-0.25},{"s":31,"x":16,"p":1.92,"e":-0.15},{"s":31,"x":18,"p":1.95,"e":-0.1},{"s":31,"x":19,"p":1.96,"e":-0.05},{"s":31,"x":20,"p":2.7,"e":1.6},{"s":31,"x":21,"p":1.98,"e":0},{"s":31,"x":24,"p":1.99,"e":0},{"s":31,"x":28,"p":2,"e":0},{"s":31,"x":32,"p":2,"e":0},
{"s":32,"x":0,"p":1.4,"e":-4.5},{"s":32,"x":1,"p":2.6,"e":0.5},{"s":32,"x":2,"p":1.9,"e":-1},{"s":32,"x":3,"p":1.3,"e":-3.5},{"s":32,"x":4,"p":1.5,"e":-2.5},{"s":32,"x":5,"p":1.0,"e":-5},{"s":32,"x":6,"p":1.4,"e":-2},{"s":32,"x":7,"p":1.4,"e":-2.5},{"s":32,"x":8,"p":1.6,"e":-1.4},{"s":32,"x":9,"p":1.7,"e":-0.9},{"s":32,"x":10,"p":1.78,"e":-0.6},{"s":32,"x":11,"p":1.8,"e":-0.5},{"s":32,"x":12,"p":1.84,"e":-0.35},{"s":32,"x":14,"p":1.88,"e":-0.25},{"s":32,"x":15,"p":1.9,"e":-0.2},{"s":32,"x":16,"p":3.1,"e":2.0},{"s":32,"x":17,"p":2.2,"e":0.4},{"s":32,"x":18,"p":1.95,"e":-0.1},{"s":32,"x":20,"p":1.97,"e":-0.05},{"s":32,"x":24,"p":1.99,"e":0},{"s":32,"x":28,"p":2,"e":0},{"s":32,"x":32,"p":2,"e":0},
{"s":33,"x":0,"p":1.0,"e":-9},{"s":33,"x":1,"p":1.4,"e":-5},{"s":33,"x":2,"p":1.1,"e":-5.5},{"s":33,"x":3,"p":1.5,"e":-2.8},{"s":33,"x":4,"p":1.6,"e":-1.5},{"s":33,"x":5,"p":1.0,"e":-5},{"s":33,"x":6,"p":1.5,"e":-1.5},{"s":33,"x":7,"p":8.4,"e":5.2},{"s":33,"x":8,"p":1.7,"e":-1},{"s":33,"x":9,"p":1.7,"e":-0.9},{"s":33,"x":10,"p":1.78,"e":-0.6},{"s":33,"x":11,"p":1.8,"e":-0.5},{"s":33,"x":12,"p":1.84,"e":-0.35},{"s":33,"x":14,"p":1.88,"e":-0.25},{"s":33,"x":16,"p":1.92,"e":-0.15},{"s":33,"x":18,"p":1.95,"e":-0.1},{"s":33,"x":20,"p":1.97,"e":-0.05},{"s":33,"x":24,"p":1.99,"e":0},{"s":33,"x":28,"p":2,"e":0},{"s":33,"x":32,"p":2,"e":0},
{"s":34,"x":0,"p":2.0,"e":-2},{"s":34,"x":1,"p":1.5,"e":-4},{"s":34,"x":2,"p":1.2,"e":-5},{"s":34,"x":3,"p":1.3,"e":-3.5},{"s":34,"x":4,"p":1.2,"e":-3.8},{"s":34,"x":5,"p":0.95,"e":-6.4},{"s":34,"x":6,"p":1.4,"e":-2},{"s":34,"x":7,"p":1.3,"e":-2.9},{"s":34,"x":8,"p":1.6,"e":-1.4},{"s":34,"x":9,"p":1.7,"e":-0.9},{"s":34,"x":10,"p":1.85,"e":-0.2},{"s":34,"x":11,"p":7.7,"e":4.6},{"s":34,"x":12,"p":2.0,"e":0.1},{"s":34,"x":14,"p":1.88,"e":-0.25},{"s":34,"x":16,"p":1.92,"e":-0.15},{"s":34,"x":18,"p":1.95,"e":-0.1},{"s":34,"x":20,"p":1.97,"e":-0.05},{"s":34,"x":24,"p":1.99,"e":0},{"s":34,"x":28,"p":2,"e":0},{"s":34,"x":32,"p":2,"e":0},
{"s":35,"x":0,"p":1.3,"e":-4},{"s":35,"x":1,"p":2.0,"e":-1},{"s":35,"x":2,"p":1.4,"e":-3.5},{"s":35,"x":3,"p":1.5,"e":-2},{"s":35,"x":4,"p":1.4,"e":-2.2},{"s":35,"x":5,"p":1.1,"e":-4.5},{"s":35,"x":6,"p":1.5,"e":-1.2},{"s":35,"x":7,"p":1.4,"e":-2.3},{"s":35,"x":8,"p":1.62,"e":-1.2},{"s":35,"x":9,"p":1.72,"e":-0.8},{"s":35,"x":10,"p":1.78,"e":-0.5},{"s":35,"x":11,"p":1.82,"e":-0.4},{"s":35,"x":12,"p":1.84,"e":-0.35},{"s":35,"x":14,"p":1.88,"e":-0.25},{"s":35,"x":16,"p":1.92,"e":-0.15},{"s":35,"x":18,"p":1.95,"e":-0.1},{"s":35,"x":20,"p":1.97,"e":-0.05},{"s":35,"x":24,"p":1.99,"e":0},{"s":35,"x":28,"p":2,"e":0},{"s":35,"x":32,"p":2,"e":0},
{"s":36,"x":0,"p":1.9,"e":-2.5},{"s":36,"x":1,"p":1.4,"e":-3.5},{"s":36,"x":2,"p":2.3,"e":-1},{"s":36,"x":3,"p":2.8,"e":0.5},{"s":36,"x":4,"p":1.6,"e":-2},{"s":36,"x":5,"p":1.1,"e":-4},{"s":36,"x":6,"p":1.4,"e":-1.8},{"s":36,"x":7,"p":1.5,"e":-2.2},{"s":36,"x":8,"p":1.62,"e":-1.3},{"s":36,"x":9,"p":1.72,"e":-0.8},{"s":36,"x":10,"p":1.78,"e":-0.6},{"s":36,"x":11,"p":1.8,"e":-0.5},{"s":36,"x":12,"p":1.84,"e":-0.35},{"s":36,"x":14,"p":1.88,"e":-0.25},{"s":36,"x":16,"p":1.92,"e":-0.15},{"s":36,"x":18,"p":1.95,"e":-0.1},{"s":36,"x":20,"p":1.97,"e":-0.05},{"s":36,"x":24,"p":1.99,"e":0},{"s":36,"x":28,"p":2,"e":0},{"s":36,"x":32,"p":2,"e":0}
]},
"vconcat":[
 {"width":517,"height":399,"title":"Prices evolution",
  "layer":[
   {"mark":{"type":"line","strokeWidth":1,"clip":true},
    "encoding":{
     "x":{"field":"x","type":"quantitative","scale":{"domain":[0,35],"nice":false,"zero":false},"axis":{"orient":"bottom","values":[0,5,10,15,20,25,30,35],"title":"Iteration"}},
     "y":{"field":"p","type":"quantitative","scale":{"domain":[0,14],"nice":false},"axis":{"orient":"left","values":[0,2,4,6,8,10,12,14],"title":"Price","titlePadding":12}},
     "color":{"field":"s","type":"nominal","legend":null,"scale":{"domain":[1,2,3,4,5,6,7,8,9,10,11,12,13,14,15,16,17,18,19,20,21,22,23,24,25,26,27,28,29,30,31,32,33,34,35,36],"range":["#0000ff","#008000","#ff0000","#00bfbf","#bf00bf","#bfbf00","#000000","#0000ff","#008000","#ff0000","#00bfbf","#bf00bf","#bfbf00","#000000","#0000ff","#008000","#ff0000","#00bfbf","#bf00bf","#bfbf00","#000000","#0000ff","#008000","#ff0000","#00bfbf","#bf00bf","#bfbf00","#0000ff","#ff0000","#008000","#0000ff","#000000","#0000ff","#ff0000","#bf00bf","#bfbf00"]}},
     "strokeDash":{"field":"s","type":"nominal","legend":null,"scale":{"domain":[1,2,3,4,5,6,7,8,9,10,11,12,13,14,15,16,17,18,19,20,21,22,23,24,25,26,27,28,29,30,31,32,33,34,35,36],"range":[[1,0],[1,0],[1,0],[1,0],[1,0],[1,0],[1,0],[6,4],[6,4],[6,4],[6,4],[6,4],[6,4],[6,4],[1,2.5],[1,2.5],[1,2.5],[1,2.5],[1,2.5],[1,2.5],[1,2.5],[6,3,1.5,3],[1,0],[6,3,1.5,3],[6,3,1.5,3],[6,4],[6,4],[6,4],[1,0],[1,0],[1,0],[6,4],[6,4],[1,2.5],[6,3,1.5,3],[6,3,1.5,3]]}}
    }},
   {"mark":{"type":"point","opacity":0},
    "encoding":{
     "x":{"field":"x","type":"quantitative","axis":{"orient":"top","values":[0,5,10,15,20,25,30,35],"labels":false,"title":null}},
     "y":{"field":"p","type":"quantitative","axis":{"orient":"right","values":[0,2,4,6,8,10,12,14],"labels":false,"title":null}}
    }}
  ],
  "resolve":{"axis":{"x":"independent","y":"independent"}}
 },
 {"width":517,"height":399,"title":"Excess supply evolution",
  "layer":[
   {"mark":{"type":"line","strokeWidth":1,"clip":true},
    "encoding":{
     "x":{"field":"x","type":"quantitative","scale":{"domain":[0,35],"nice":false,"zero":false},"axis":{"orient":"bottom","values":[0,5,10,15,20,25,30,35],"title":"Iteration"}},
     "y":{"field":"e","type":"quantitative","scale":{"domain":[-40,10],"nice":false},"axis":{"orient":"left","values":[-40,-30,-20,-10,0,10],"title":"Amount of goods","titlePadding":17}},
     "color":{"field":"s","type":"nominal","legend":null,"scale":{"domain":[1,2,3,4,5,6,7,8,9,10,11,12,13,14,15,16,17,18,19,20,21,22,23,24,25,26,27,28,29,30,31,32,33,34,35,36],"range":["#0000ff","#008000","#ff0000","#00bfbf","#bf00bf","#bfbf00","#000000","#0000ff","#008000","#ff0000","#00bfbf","#bf00bf","#bfbf00","#000000","#0000ff","#008000","#ff0000","#00bfbf","#bf00bf","#bfbf00","#000000","#0000ff","#008000","#ff0000","#00bfbf","#bf00bf","#bfbf00","#0000ff","#ff0000","#008000","#0000ff","#000000","#0000ff","#ff0000","#bf00bf","#bfbf00"]}},
     "strokeDash":{"field":"s","type":"nominal","legend":null,"scale":{"domain":[1,2,3,4,5,6,7,8,9,10,11,12,13,14,15,16,17,18,19,20,21,22,23,24,25,26,27,28,29,30,31,32,33,34,35,36],"range":[[1,0],[1,0],[1,0],[1,0],[1,0],[1,0],[1,0],[6,4],[6,4],[6,4],[6,4],[6,4],[6,4],[6,4],[1,2.5],[1,2.5],[1,2.5],[1,2.5],[1,2.5],[1,2.5],[1,2.5],[6,3,1.5,3],[1,0],[6,3,1.5,3],[6,3,1.5,3],[6,4],[6,4],[6,4],[1,0],[1,0],[1,0],[6,4],[6,4],[1,2.5],[6,3,1.5,3],[6,3,1.5,3]]}}
    }},
   {"mark":{"type":"point","opacity":0},
    "encoding":{
     "x":{"field":"x","type":"quantitative","axis":{"orient":"top","values":[0,5,10,15,20,25,30,35],"labels":false,"title":null}},
     "y":{"field":"e","type":"quantitative","axis":{"orient":"right","values":[-40,-30,-20,-10,0,10],"labels":false,"title":null}}
    }}
  ],
  "resolve":{"axis":{"x":"independent","y":"independent"}}
 }
]
}
